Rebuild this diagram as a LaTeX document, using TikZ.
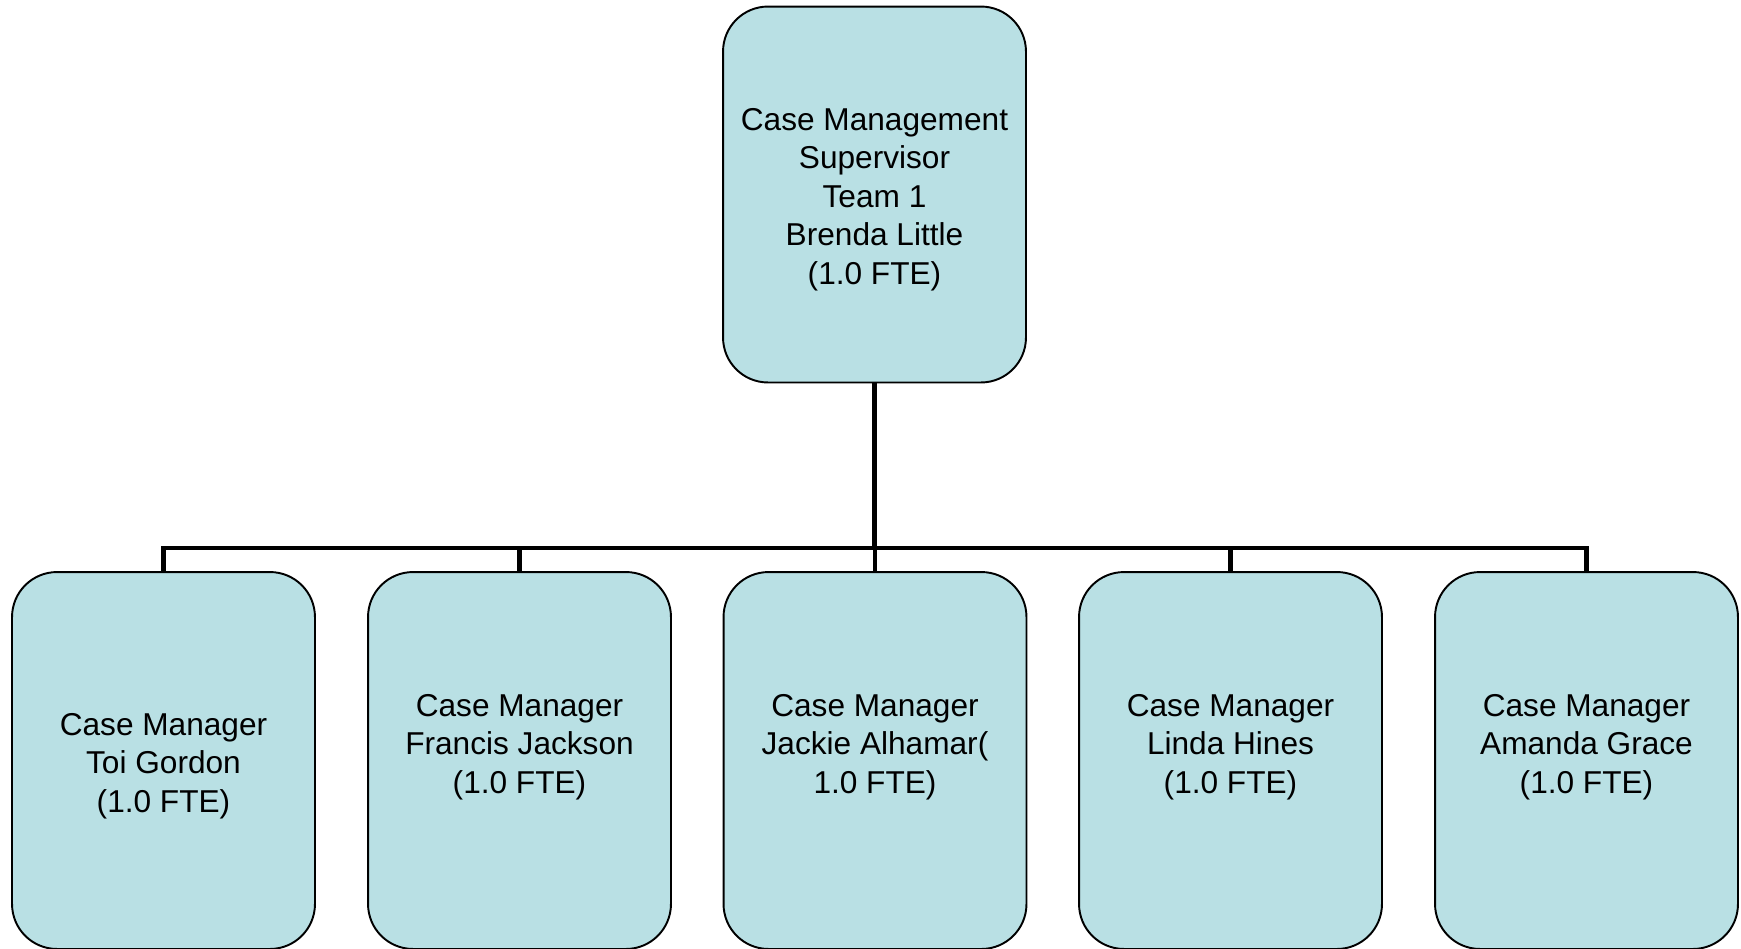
\documentclass[tikz,border=0pt]{standalone}
\usepackage{fontspec}
\setmainfont{Liberation Sans}
\usepackage{tikz}

\definecolor{staffblue}{RGB}{185,224,228}
\tikzset{
	staffbox/.style = {draw, line width = 1.1pt, fill = staffblue, rounded corners = 0.9cm,
		minimum width = 6.06cm, inner sep = 0pt},
	every label/.style = {align = center, inner sep = 0pt,
		font = \fontsize{18pt}{21.9pt}\selectfont},
	orgline/.style = {line width = 2.8pt}
}

\begin{document}
\begin{tikzpicture}[x = 0.02cm, y = -0.02cm]
	\useasboundingbox (0, 0) rectangle (1741, 948);
	\node[staffbox, minimum height = 7.52cm, label = {[yshift = -2.8pt]center:{Case Management\\Supervisor\\Team 1\\Brenda Little\\(1.0 FTE)}}] (boss) at (874.5, 194.5) {};
	\node[staffbox, minimum height = 7.54cm, label = {[yshift = -3pt]center:{Case Manager\\Toi Gordon\\(1.0 FTE)}}] (cm1) at (163.5, 760.5) {};
	\node[staffbox, minimum height = 7.54cm, label = {[yshift = 7.8pt]center:{Case Manager\\Francis Jackson\\(1.0 FTE)}}] (cm2) at (519.5, 760.5) {};
	\node[staffbox, minimum height = 7.54cm, label = {[yshift = 7.8pt]center:{Case Manager\\Jackie Alhamar(\\1.0 FTE)}}] (cm3) at (875, 760.5) {};
	\node[staffbox, minimum height = 7.54cm, label = {[yshift = 7.8pt]center:{Case Manager\\Linda Hines\\(1.0 FTE)}}] (cm4) at (1230.5, 760.5) {};
	\node[staffbox, minimum height = 7.54cm, label = {[yshift = 7.8pt]center:{Case Manager\\Amanda Grace\\(1.0 FTE)}}] (cm5) at (1586.5, 760.5) {};
	\coordinate (hub) at (874.5, 548);
	\draw[orgline] (boss.south) -- (hub);
	\foreach \n in {1, ..., 5}
		\draw[orgline] (cm\n.north) |- (hub);
\end{tikzpicture}
\end{document}
